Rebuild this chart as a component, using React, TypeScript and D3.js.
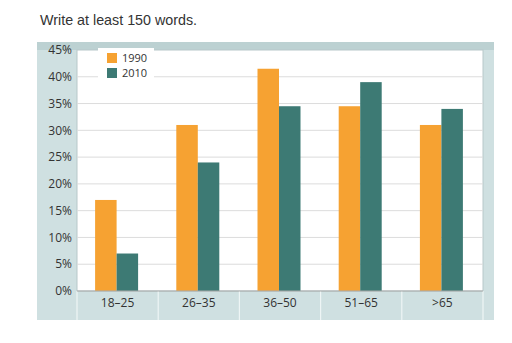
import React from "react";
import * as d3 from "d3";

const categories = ["18–25", "26–35", "36–50", "51–65", ">65"];
const series = ["1990", "2010"];
const values1990 = [17, 31, 41.5, 34.5, 31];
const values2010 = [7, 24, 34.5, 39, 34];
const yTicks = [0, 5, 10, 15, 20, 25, 30, 35, 40, 45];
const colors = ["#f6a232", "#3d7a74"];

export default function App() {
  const W = 512, H = 343;
  const plot = { l: 77, r: 483, t: 50, b: 291 };
  const x = d3.scaleBand().domain(categories).range([plot.l, plot.r]).paddingInner(0).paddingOuter(0);
  const y = d3.scaleLinear().domain([0, 45]).range([plot.b, plot.t]);
  const inner = d3.scaleBand().domain(series).range([0, 43]);
  const offset = (x.bandwidth() - 43) / 2 - 1;
  const data = [values1990, values2010];
  const font = "'Open Sans', 'DejaVu Sans', sans-serif";
  return (
    <svg width={W} height={H} style={{ position: "absolute", left: 0, top: 0 }} fontFamily={font}>
      <rect x={0} y={0} width={W} height={H} fill="#ffffff" />
      <text x={40} y={25} fontSize={14.3} fill="#333" fontFamily="'Liberation Sans', Arial, sans-serif">Write at least 150 words.</text>
      <rect x={37} y={42} width={457} height={278} fill="#cfe0e1" />
      <rect x={37} y={42} width={457} height={8} fill="#bcd1d2" />
      <rect x={plot.l} y={plot.t} width={plot.r - plot.l} height={plot.b - plot.t} fill="#ffffff" stroke="#b8c8ca" strokeWidth={1} />
      {yTicks.map((t) => (
        <g key={t}>
          {t > 0 && t < 45 && (
            <line x1={plot.l} x2={plot.r} y1={y(t)} y2={y(t)} stroke="#dcdcdc" strokeWidth={1} />
          )}
          <text x={72} y={y(t)} dy="0.35em" textAnchor="end" fontSize={12} fill="#333">{t}%</text>
        </g>
      ))}
      {categories.map((c, i) => (
        <g key={c}>
          {data.map((vals, s) => (
            <rect
              key={s}
              x={(x(c) as number) + offset + (inner(series[s]) as number)}
              y={y(vals[i])}
              width={inner.bandwidth()}
              height={plot.b - y(vals[i])}
              fill={colors[s]}
            />
          ))}
          <text x={(x(c) as number) + x.bandwidth() / 2} y={307} textAnchor="middle" fontSize={12} fill="#333">{c}</text>
          <line x1={(x(c) as number)} x2={(x(c) as number)} y1={plot.b} y2={320} stroke="#eef5f5" strokeWidth={1.2} />
        </g>
      ))}
      <line x1={plot.r} x2={plot.r} y1={plot.b} y2={320} stroke="#eef5f5" strokeWidth={1.2} />
      <line x1={plot.l} x2={plot.r} y1={plot.b} y2={plot.b} stroke="#aaa" strokeWidth={1} />
      <rect x={98} y={48} width={56} height={38} fill="#ffffff" />
      {series.map((s, i) => (
        <g key={s}>
          <rect x={107} y={53 + i * 15} width={10} height={10} fill={colors[i]} />
          <text x={122} y={58 + i * 15} dy="0.35em" fontSize={11} fill="#333">{s}</text>
        </g>
      ))}
    </svg>
  );
}
